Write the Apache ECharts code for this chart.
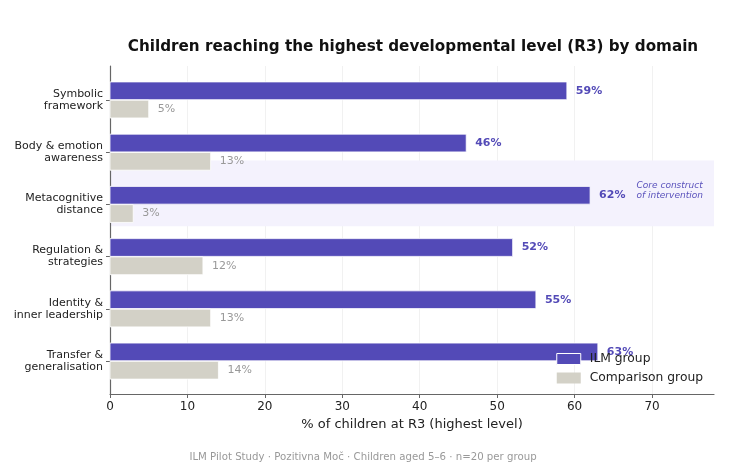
<!DOCTYPE html>
<html>
<head>
<meta charset="utf-8">
<title>R3 by domain</title>
<script src="https://cdn.jsdelivr.net/npm/echarts@6/dist/echarts.min.js"></script>
<style>
  html, body { margin: 0; padding: 0; background: #fff; }
  #main { width: 743px; height: 473px; }
</style>
</head>
<body>
<div id="main"></div>
<script>
// data
var domains = ['Symbolic\nframework', 'Body & emotion\nawareness', 'Metacognitive\ndistance',
  'Regulation &\nstrategies', 'Identity &\ninner leadership', 'Transfer &\ngeneralisation'];
var ilmGroup = [59, 46, 62, 52, 55, 63];
var comparisonGroup = [5, 13, 3, 12, 13, 14];
var xTicks = [0, 10, 20, 30, 40, 50, 60, 70];
var highlighted = [2];
var noteText = 'Core construct\nof intervention';

var PURPLE = '#534AB7';
var GREY = '#D3D1C7';
var FONT = 'DejaVu Sans';
var BAR_H = 0.34;

var chart = echarts.init(document.getElementById('main'));

// one bar + its % label
function barItem(color, labelColor, bold, top) {
  return function (params, api) {
    var v = api.value(0), i = api.value(1);
    var y0 = top ? i - BAR_H - 0.005 : i + 0.005;
    var p0 = api.coord([0, y0]);
    var p1 = api.coord([v, y0 + BAR_H]);
    var lp = api.coord([v, y0 + BAR_H / 2]);
    return {
      type: 'group',
      children: [{
        type: 'rect',
        shape: { x: p0[0], y: p0[1], width: p1[0] - p0[0], height: p1[1] - p0[1] },
        style: { fill: color, stroke: '#fff', lineWidth: 0.8 }
      }, {
        type: 'text',
        x: lp[0] + 9, y: lp[1],
        style: {
          text: v + '%', fill: labelColor, font: (bold ? 'bold ' : '') + '11px ' + FONT,
          verticalAlign: 'middle', align: 'left'
        }
      }]
    };
  };
}

var option = {
  animation: false,
  textStyle: { fontFamily: FONT },
  title: [{
    text: 'Children reaching the highest developmental level (R3) by domain',
    left: 408, top: 35, textAlign: 'center',
    textStyle: { fontSize: 15.2, fontWeight: 'bold', color: '#111', fontFamily: FONT }
  }, {
    text: 'ILM Pilot Study · Pozitivna Moč · Children aged 5–6 · n=20 per group',
    left: 358, top: 447, textAlign: 'center',
    textStyle: { fontSize: 10.2, fontWeight: 'normal', color: '#999', fontFamily: FONT }
  }],
  legend: {
    orient: 'vertical', right: 35, bottom: 84,
    itemWidth: 24, itemHeight: 11, itemGap: 7,
    icon: 'rect',
    textStyle: { fontSize: 12.3, color: '#222', fontFamily: FONT, padding: [0, 0, 0, 4] },
    data: [
      { name: 'ILM group', itemStyle: { color: PURPLE, borderColor: '#fff', borderWidth: 1 } },
      { name: 'Comparison group', itemStyle: { color: GREY } }
    ]
  },
  grid: { left: 110, right: 29, top: 66, bottom: 79 },
  xAxis: {
    type: 'value', min: 0, max: 78,
    name: '% of children at R3 (highest level)',
    nameLocation: 'middle', nameGap: 24,
    nameTextStyle: { fontSize: 13, color: '#222' },
    axisLine: { show: true, onZero: false, lineStyle: { color: '#666', width: 1.2 } },
    axisTick: { show: true, length: 4, customValues: xTicks, lineStyle: { color: '#666' } },
    axisLabel: { customValues: xTicks, fontSize: 12, color: '#222', margin: 7 },
    splitLine: { show: true, lineStyle: { color: '#eeeeee', width: 0.8 } }
  },
  yAxis: {
    type: 'value', min: -0.65, max: 5.63, inverse: true,
    axisLine: { show: true, onZero: false, lineStyle: { color: '#666', width: 1.2 } },
    axisTick: { show: true, length: 4, customValues: [0, 1, 2, 3, 4, 5], lineStyle: { color: '#666' } },
    axisLabel: {
      customValues: [0, 1, 2, 3, 4, 5], fontSize: 11, color: '#222', margin: 7,
      lineHeight: 12, align: 'right', padding: [5, 0, 0, 0],
      formatter: function (v) { return domains[Math.round(v)] || ''; }
    },
    splitLine: { show: false }
  },
  series: [{
    type: 'custom', name: 'highlight', silent: true, z: 0,
    data: highlighted.map(function (i) { return [i]; }),
    renderItem: function (params, api) {
      var i = api.value(0);
      var a = api.coord([0, i - 0.84]);
      var b = api.coord([78, i + 0.42]);
      var t = api.coord([68, i - 0.26]);
      return {
        type: 'group',
        children: [{
          type: 'rect',
          shape: { x: a[0], y: a[1], width: b[0] - a[0], height: b[1] - a[1] },
          style: { fill: '#F4F2FD' }
        }, {
          type: 'text', x: t[0], y: t[1],
          style: {
            text: noteText, fill: '#5A52BC', font: 'italic 9px ' + FONT,
            lineHeight: 10, verticalAlign: 'middle', align: 'left'
          }
        }]
      };
    }
  }, {
    type: 'custom', name: 'ILM group', z: 2,
    itemStyle: { color: PURPLE, borderColor: '#fff', borderWidth: 1 },
    data: ilmGroup.map(function (v, i) { return [v, i]; }),
    encode: { x: 0, y: 1 },
    renderItem: barItem(PURPLE, PURPLE, true, true)
  }, {
    type: 'custom', name: 'Comparison group', z: 2,
    itemStyle: { color: GREY },
    data: comparisonGroup.map(function (v, i) { return [v, i]; }),
    encode: { x: 0, y: 1 },
    renderItem: barItem(GREY, '#999', false, false)
  }]
};

chart.setOption(option);
</script>
</body>
</html>
